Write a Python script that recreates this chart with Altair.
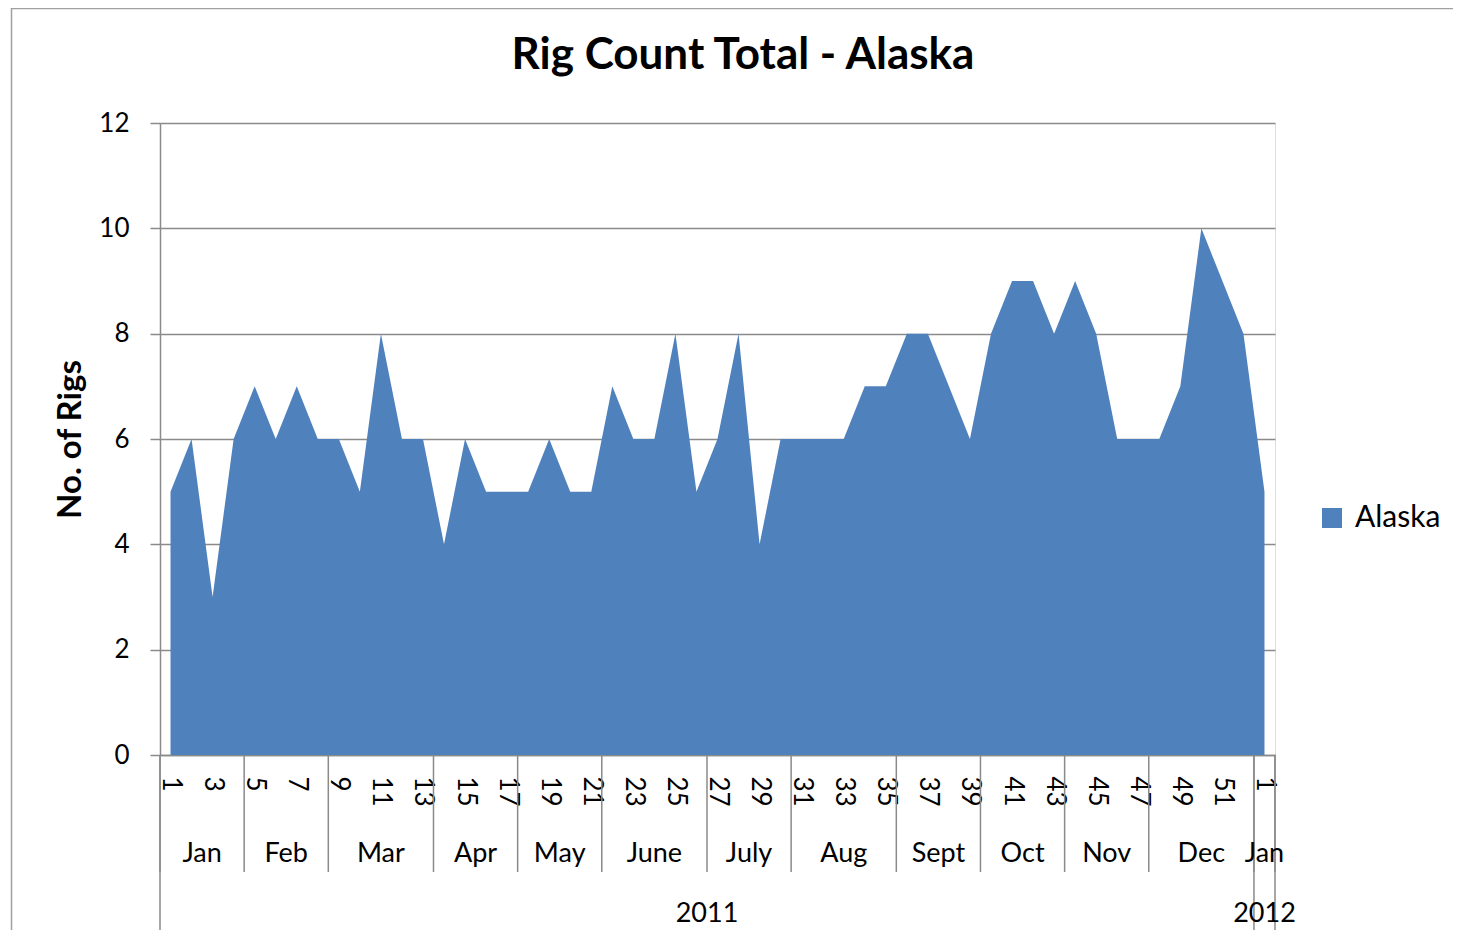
import altair as alt
import pandas as pd

# ---- data ----
week_idx = list(range(1, 54))            # position on the category axis (52 weeks of 2011 + week 1 of 2012)
week_labels = [str(i) for i in range(1, 53)] + ["1"]
rigs = [5, 6, 3, 6, 7, 6, 7, 6, 6, 5,
        8, 6, 6, 4, 6, 5, 5, 5, 6, 5,
        5, 7, 6, 6, 8, 5, 6, 8, 4, 6,
        6, 6, 6, 7, 7, 8, 8, 7, 6, 8,
        9, 9, 8, 9, 8, 6, 6, 6, 7, 10,
        9, 8, 5]

month_names = ["Jan", "Feb", "Mar", "Apr", "May", "June", "July", "Aug", "Sept", "Oct", "Nov", "Dec", "Jan"]
month_first = [1, 5, 9, 14, 18, 22, 27, 31, 36, 40, 44, 48, 53]
month_last = [4, 8, 13, 17, 21, 26, 30, 35, 39, 43, 47, 52, 53]

year_names = ["2011", "2012"]
year_first = [1, 53]
year_last = [52, 53]

series_name = "Alaska"
y_ticks = [0, 2, 4, 6, 8, 10, 12]

# ---- tables ----
df = pd.DataFrame({"idx": week_idx, "week": week_labels, "rigs": rigs, "series": series_name})
months = pd.DataFrame({"name": month_names, "first": month_first, "last": month_last})
months["mid"] = (months["first"] + months["last"]) / 2
years = pd.DataFrame({"name": year_names, "first": year_first, "last": year_last})
years["mid"] = (years["first"] + years["last"]) / 2

month_bounds = pd.DataFrame({"b": [f - 0.5 for f in month_first] + [month_last[-1] + 0.5]})
year_bounds = pd.DataFrame({"b": [f - 0.5 for f in year_first] + [year_last[-1] + 0.5]})

W, H = 1115, 632
FONT = "Lato"
GRAY = "#8a8a8a"
BLUE = "#4F81BD"

xscale = alt.Scale(domain=[0.5, 53.5], nice=False, zero=False)
odd_vals = [i for i in week_idx if i % 2 == 1]

area = alt.Chart(df).mark_area(interpolate="linear").encode(
    x=alt.X("idx:Q", scale=xscale,
            axis=alt.Axis(values=odd_vals, labelExpr="datum.value > 52 ? datum.value - 52 : datum.value",
                          labelAngle=90, labelAlign="left", labelBaseline="middle",
                          ticks=False, tickSize=0, labelPadding=21, labelOverlap=False, labelFlush=False,
                          grid=False, title=None, domainColor=GRAY, domainWidth=1.5,
                          labelFont=FONT, labelFontSize=26, labelColor="black")),
    y=alt.Y("rigs:Q", scale=alt.Scale(domain=[0, 12], nice=False),
            axis=alt.Axis(values=y_ticks, tickSize=10, tickColor=GRAY, tickWidth=1.5,
                          domainColor=GRAY, domainWidth=1.5, gridColor=GRAY, gridWidth=1.5,
                          labelPadding=21, labelFont=FONT, labelFontSize=26, labelColor="black",
                          title="No. of  Rigs", titleFont=FONT, titleFontSize=33, titleFontWeight="bold",
                          titleColor="black", titleAngle=270, titleX=-80, titleY=H / 2,
                          titleAlign="center", titleBaseline="alphabetic")),
    color=alt.Color("series:N", scale=alt.Scale(domain=[series_name], range=[BLUE]),
                    legend=alt.Legend(orient="none", legendX=1157, legendY=380, title=None,
                                      symbolType="square", symbolSize=400, symbolStrokeWidth=0,
                                      labelFont=FONT, labelFontSize=30, labelColor="black",
                                      labelOffset=8, padding=0)),
)

month_rules = alt.Chart(month_bounds).mark_rule(color=GRAY, strokeWidth=1.5).encode(
    x=alt.X("b:Q", scale=xscale), y=alt.value(H), y2=alt.value(H + 117))
year_rules = alt.Chart(year_bounds).mark_rule(color=GRAY, strokeWidth=1.5).encode(
    x=alt.X("b:Q", scale=xscale), y=alt.value(H), y2=alt.value(H + 178))

month_text = alt.Chart(months).mark_text(font=FONT, fontSize=27, color="black", baseline="alphabetic",
                                         align="center").encode(
    x=alt.X("mid:Q", scale=xscale), y=alt.value(739), text="name:N")
year_text = alt.Chart(years).mark_text(font=FONT, fontSize=27, color="black", baseline="alphabetic",
                                       align="center").encode(
    x=alt.X("mid:Q", scale=xscale), y=alt.value(799), text="name:N")

title = alt.Chart(pd.DataFrame({"t": ["Rig Count Total - Alaska"]})).mark_text(
    font=FONT, fontSize=44, fontWeight="bold", color="black", baseline="alphabetic", align="center"
).encode(x=alt.value(583), y=alt.value(-54), text="t:N")

border = alt.Chart(pd.DataFrame({"k": [0]})).mark_rect(fillOpacity=0, stroke="#a0a0a0", strokeWidth=1.5).encode(
    x=alt.value(-148.5), y=alt.value(-114.5), x2=alt.value(1500), y2=alt.value(1000))

chart = alt.layer(border, area, month_rules, year_rules, month_text, year_text, title).properties(
    width=W, height=H,
    autosize=alt.AutoSizeParams(type="none"),
    padding={"left": 152, "top": 115, "right": 178, "bottom": 175},
).configure_view(stroke=None).configure(background="white")

chart.save("out.html", embed_options={"renderer": "svg", "actions": False})
